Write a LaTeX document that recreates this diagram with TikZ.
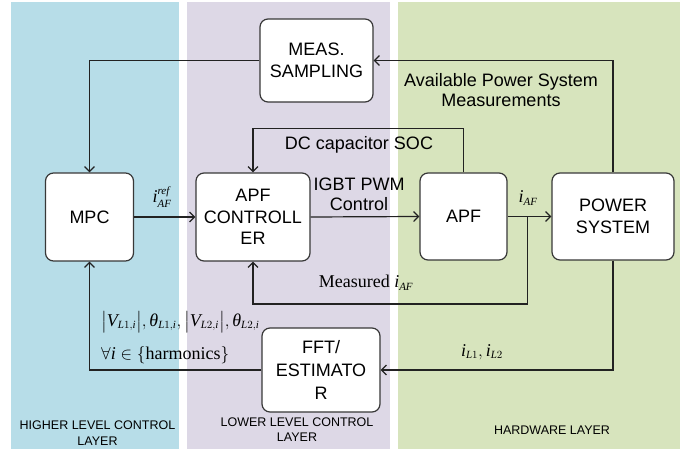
\documentclass[tikz,border=0pt]{standalone}
\usepackage{amsmath}
\usepackage{fontspec}
\setmainfont{Liberation Serif}
\setsansfont{Liberation Sans}
\usetikzlibrary{arrows.meta,calc}
\DeclareMathSizes{18}{18}{11}{8}
\definecolor{bluebg}{HTML}{B7DDE8}
\definecolor{purplebg}{HTML}{DDD8E6}
\definecolor{greenbg}{HTML}{D7E4BD}
\definecolor{linecol}{HTML}{222222}
\tikzset{
  blk/.style={draw=linecol!90, line width=1.2pt, rounded corners=8pt, fill=white,
    align=center, font=\fontsize{18}{21.5}\selectfont\sffamily, inner sep=0pt},
  conn/.style={draw=linecol, line width=1.2pt},
  arr/.style={conn, -{Straight Barb[length=5pt,width=10pt]}},
  lbl/.style={font=\fontsize{18}{20.5}\selectfont\sffamily, align=center, inner sep=0pt},
  mlbl/.style={font=\fontsize{18}{21}\selectfont, inner sep=0pt},
  layerlbl/.style={font=\fontsize{12.5}{15.5}\selectfont\sffamily, align=center, inner sep=0pt},
}
\begin{document}
\begin{tikzpicture}[x=1pt,y=-1pt]
\useasboundingbox (0,0) rectangle (691,449);
% layers
\fill[bluebg] (11,2) rectangle (179,449);
\fill[purplebg] (187,2) rectangle (390,449);
\fill[greenbg] (398,2) rectangle (680,449);
% blocks
\node[blk, minimum width=88pt, minimum height=88pt] (mpc) at (89.5,217) {MPC};
\node[blk, minimum width=114pt, minimum height=88pt] (apfc) at (253,217) {APF\\CONTROLL\\ER};
\node[blk, minimum width=87pt, minimum height=87pt] (apf) at (463.5,216.5) {APF};
\node[blk, minimum width=122pt, minimum height=87pt] (ps) at (613,216.5) {POWER\\SYSTEM};
\node[blk, minimum width=113pt, minimum height=83pt] (meas) at (316.5,60.5) {MEAS.\\SAMPLING};
\node[blk, minimum width=118pt, minimum height=84pt, font=\fontsize{18}{23}\selectfont\sffamily] (fft) at (321,370) {FFT/\\ESTIMATO\\R};
% connectors
\draw[arr] (meas.west) -| (mpc.north);
\draw[arr] (ps.north) |- (meas.east);
\draw[arr] (apf.north) -- ++(0,-44) -| (apfc.north);
\draw[arr] (mpc.east) -- (apfc.west);
\draw[arr] (apfc.east) -- (apf.west);
\draw[arr] (apf.east) -- (ps.west);
\coordinate (j) at ($(apf.east)!0.4545!(ps.west)$);
\draw[arr] (j) -- ++(0,87.5) -| (apfc.south);
\draw[arr] (ps.south) |- (fft.east);
\draw[arr] (fft.west) -| (mpc.south);
% labels
\node[mlbl] (lref) at (162,197) {$\textit{i}_{\textit{AF}}^{\textit{ref}}$};
\node[lbl] (ligbt) at (359,194.5) {IGBT PWM\\Control};
\node[mlbl] (liaf) at (528,198) {$\textit{i}_{\textit{AF}}$};
\node[lbl] (lavail) at (501,90) {Available Power System\\Measurements};
\node[lbl] (ldc) at (359,145) {DC capacitor SOC};
\node[mlbl] (lmeas) at (366,283) {Measured $\textit{i}_{\textit{AF}}$};
\node[mlbl] (lil) at (482,352) {$\textit{i}_{\textit{L}1},\textit{i}_{\textit{L}2}$};
\node[mlbl, anchor=west] (lv) at (101,322) {$\bigl|\textit{V}_{\textit{L}1,\textit{i}}\bigr|,\textit{θ}_{\textit{L}1,\textit{i}},\bigl|\textit{V}_{\textit{L}2,\textit{i}}\bigr|,\textit{θ}_{\textit{L}2,\textit{i}}$};
\node[mlbl, anchor=west] (lall) at (101,355) {$\forall\textit{i}\in\{\textrm{harmonics}\}$};
% layer labels
\node[layerlbl] (lhigh) at (97.5,433) {HIGHER LEVEL CONTROL\\LAYER};
\node[layerlbl] (llow) at (297,429.5) {LOWER LEVEL CONTROL\\LAYER};
\node[layerlbl] (lhw) at (552,430) {HARDWARE LAYER};
\end{tikzpicture}
\end{document}
